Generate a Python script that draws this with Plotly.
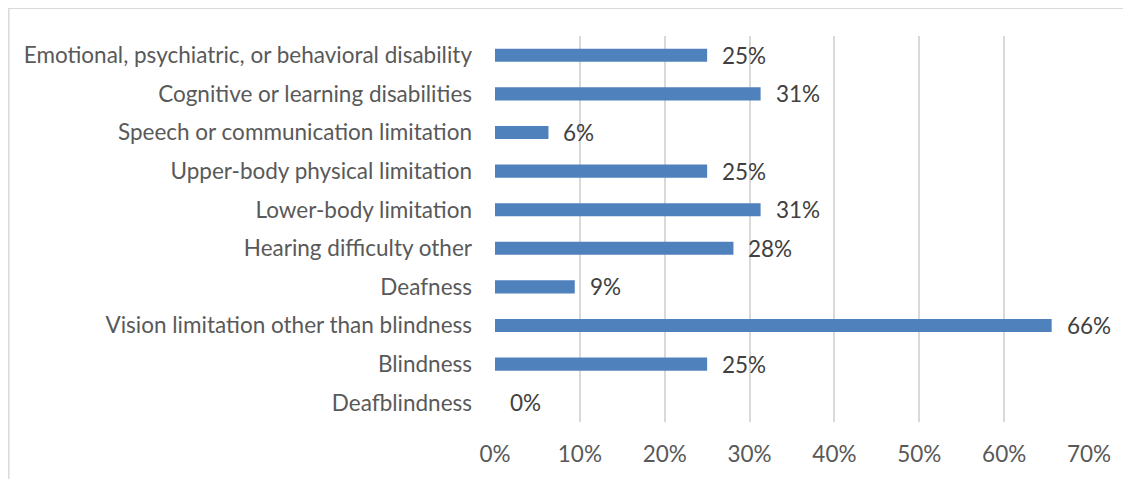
import plotly.graph_objects as go

categories = [
    "Deafblindness",
    "Blindness",
    "Vision limitation other than blindness",
    "Deafness",
    "Hearing difficulty other",
    "Lower-body limitation",
    "Upper-body physical limitation",
    "Speech or communication limitation",
    "Cognitive or learning disabilities",
    "Emotional, psychiatric, or behavioral disability",
]
values = [0.0, 0.25, 0.656, 0.094, 0.281, 0.313, 0.25, 0.063, 0.313, 0.25]
x_ticks = [0, 0.1, 0.2, 0.3, 0.4, 0.5, 0.6, 0.7]
x_tick_labels = ["0%", "10%", "20%", "30%", "40%", "50%", "60%", "70%"]

FONT = "Lato"
FS = 22.5
fig = go.Figure()
fig.add_trace(go.Bar(
    x=values, y=categories, orientation="h",
    marker=dict(color="#4F81BD", line=dict(width=0)),
    width=0.34, hoverinfo="skip",
))
for c, v in zip(categories, values):
    fig.add_annotation(x=v, y=c, text=f"{v:.0%}", showarrow=False,
                       xanchor="left", yanchor="middle", xshift=13,
                       font=dict(family=FONT, size=FS, color="#404040"))

fig.add_shape(type="rect", xref="paper", yref="paper",
              x0=-0.8185, x1=1.3, y0=-0.4, y1=1.072,
              line=dict(color="#D9D9D9", width=1.5), fillcolor="rgba(0,0,0,0)", layer="below")

fig.update_layout(
    width=1123, height=471,
    margin=dict(l=487, r=42, t=28, b=57),
    paper_bgcolor="white", plot_bgcolor="white",
    showlegend=False,
    font=dict(family=FONT, size=FS, color="#595959"),
    xaxis=dict(range=[0, 0.7], tickvals=x_ticks, ticktext=x_tick_labels,
               showgrid=True, gridcolor="#D9D9D9", gridwidth=1.5,
               zeroline=False, showline=False, ticks="", ticklabelstandoff=16,
               tickfont=dict(family=FONT, size=FS, color="#595959")),
    yaxis=dict(categoryorder="array", categoryarray=categories,
               range=[-0.5, 9.5], showgrid=False, zeroline=False, showline=False,
               ticks="", ticklabelstandoff=22,
               tickfont=dict(family=FONT, size=FS, color="#595959")),
)
fig.write_html("out.html")
